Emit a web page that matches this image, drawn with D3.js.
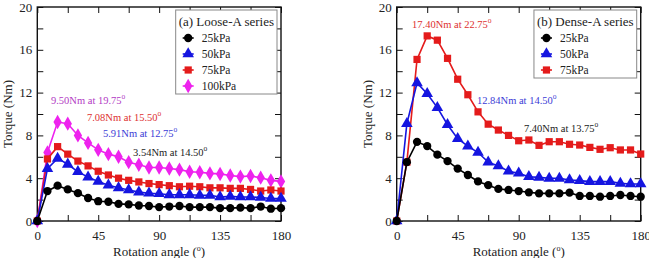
<!DOCTYPE html>
<html>
  <body style="margin:0;background:#fff">
    <style>
      text {
        font-family: "Liberation Serif", "DejaVu Serif", serif !important;
      }
    </style>
    <svg id="chart" width="649" height="258" font-family="Liberation Serif, serif"></svg>
    <script src="https://d3js.org/d3.v7.min.js"></script>
    <script type="text/javascript">
      // rotation angles (deg), shared by every series
      const angles = [0, 7.5, 15, 22.5, 30, 37.5, 45, 52.5, 60, 67.5, 75, 82.5, 90,
        97.5, 105, 112.5, 120, 127.5, 135, 142.5, 150, 157.5, 165, 172.5, 180];

      // (a) Loose-A series, torque in Nm
      const loose25 = [0, 2.8, 3.3, 2.95, 2.6, 2.15, 1.85, 1.8, 1.6, 1.55, 1.45, 1.4, 1.3,
        1.35, 1.4, 1.3, 1.3, 1.3, 1.2, 1.2, 1.25, 1.2, 1.35, 1.15, 1.2];
      const loose50 = [0, 4.9, 5.85, 5.3, 4.6, 4.1, 3.7, 3.35, 3.1, 2.9, 2.7, 2.6, 2.55,
        2.45, 2.45, 2.45, 2.4, 2.4, 2.25, 2.3, 2.25, 2.25, 2.2, 2.1, 2.1];
      const loose75 = [0, 5.8, 6.95, 6.25, 5.6, 5.15, 4.65, 4.3, 4.0, 3.8, 3.65, 3.5, 3.4,
        3.3, 3.2, 3.25, 3.2, 3.1, 3.1, 3.05, 3.05, 2.95, 2.8, 2.9, 2.8];
      const loose100 = [0, 6.4, 9.25, 9.1, 8.0, 7.3, 6.65, 6.25, 6.0, 5.5, 5.25, 5.0, 5.0,
        4.9, 4.8, 4.6, 4.55, 4.45, 4.4, 4.25, 4.15, 4.2, 4.05, 3.8, 3.7];

      // (b) Dense-A series, torque in Nm
      const dense25 = [0, 5.5, 7.4, 7.0, 6.2, 5.6, 4.9, 4.3, 3.7, 3.35, 3.0, 2.9, 2.8,
        2.68, 2.58, 2.58, 2.58, 2.65, 2.34, 2.34, 2.27, 2.34, 2.43, 2.34, 2.27];
      const dense50 = [0, 9.1, 12.9, 11.9, 10.6, 9.0, 7.7, 7.0, 6.4, 5.5, 5.15, 4.65, 4.46,
        4.14, 4.08, 3.99, 3.99, 3.83, 3.77, 3.68, 3.68, 3.68, 3.52, 3.46, 3.46];
      const dense75 = [0, 5.5, 15.1, 17.3, 16.9, 15.2, 13.25, 11.8, 10.2, 9.05, 8.5, 8.0, 7.5,
        7.57, 7.07, 7.41, 7.41, 7.17, 7.1, 6.88, 6.7, 6.85, 6.64, 6.64, 6.26];

      const seriesLabels = ['25kPa', '50kPa', '75kPa', '100kPa'];
      const xTicks = [0, 45, 90, 135, 180];
      const yTicks = [0, 4, 8, 12, 16, 20];

      // peak annotations: [text, angle-label, x (deg), y (Nm)]
      const looseNotes = [
        ['9.50Nm at ', '19.75', 10.1, 10.9],
        ['7.08Nm at ', '15.50', 36.7, 9.35],
        ['5.91Nm at ', '12.75', 48.5, 7.85],
        ['3.54Nm at ', '14.50', 70.7, 6.07],
      ];
      const denseNotes = [
        ['17.40Nm at ', '22.75', 11.3, 18.04],
        ['12.84Nm at ', '14.50', 59.2, 10.93],
        ['7.40Nm at ', '13.75', 93.9, 8.32],
      ];

      const colors = ['#000000', '#1515e0', '#e41b1b', '#ee22ee'];
      const noteColors = ['#b23ac4', '#dd3030', '#3b3bd6', '#222222'];
      const shapes = [d3.symbolCircle, d3.symbolTriangle, d3.symbolSquare, d3.symbolDiamond];
      const shapeSize = [54, 58, 52, 60];
      const serif = '"Liberation Serif", "DejaVu Serif", serif';

      const svg = d3.select('#chart');

      function drawPanel(opt) {
        const top = 7, bottom = 221;
        const x = d3.scaleLinear().domain([0, 180]).range([opt.left, opt.right]);
        const y = d3.scaleLinear().domain([0, 20]).range([bottom, top]);
        const g = svg.append('g');

        const xAll = d3.range(0, 181, 22.5);
        const yAll = d3.range(0, 21, 2);
        const fmtX = (d) => (xTicks.includes(d) ? d : '');
        const fmtY = (d) => (yTicks.includes(d) ? d : '');

        function styleAxis(sel) {
          sel.attr('font-family', serif).attr('font-size', 13);
          sel.select('.domain').remove();
          sel.selectAll('.tick line').attr('stroke', '#111').attr('stroke-width', 1);
          sel.selectAll('.tick text').attr('fill', '#222');
        }
        // ticks on all four sides, pointing inward
        g.append('g')
          .attr('transform', `translate(0,${bottom})`)
          .call(d3.axisBottom(x).tickValues(xAll).tickSize(-6).tickPadding(10).tickFormat(fmtX))
          .call(styleAxis);
        g.append('g')
          .attr('transform', `translate(0,${top})`)
          .call(d3.axisTop(x).tickValues(xAll).tickSize(-6).tickFormat(() => ''))
          .call(styleAxis);
        g.append('g')
          .attr('transform', `translate(${opt.left},0)`)
          .call(d3.axisLeft(y).tickValues(yAll).tickSize(-6).tickPadding(5).tickFormat(fmtY))
          .call(styleAxis);
        g.append('g')
          .attr('transform', `translate(${opt.right},0)`)
          .call(d3.axisRight(y).tickValues(yAll).tickSize(-6).tickFormat(() => ''))
          .call(styleAxis);

        g.append('rect')
          .attr('x', opt.left)
          .attr('y', top)
          .attr('width', opt.right - opt.left)
          .attr('height', bottom - top)
          .attr('fill', 'none')
          .attr('stroke', '#111')
          .attr('stroke-width', 1.4);

        // axis titles
        const xt = g.append('text')
          .attr('x', (opt.left + opt.right) / 2)
          .attr('y', 256)
          .attr('text-anchor', 'middle')
          .attr('font-size', 13)
          .attr('fill', '#222')
          .text('Rotation angle (');
        xt.append('tspan').attr('font-size', 8).attr('dy', -5).text('o');
        xt.append('tspan').attr('dy', 5).text(')');

        g.append('text')
          .attr('transform', `translate(${opt.left - 25},${(top + bottom) / 2}) rotate(-90)`)
          .attr('text-anchor', 'middle')
          .attr('font-size', 13)
          .attr('fill', '#222')
          .text('Torque (Nm)');

        // series lines and markers, lowest-pressure series drawn on top
        const line = d3.line()
          .x((d, i) => x(angles[i]))
          .y((d) => y(d));
        const order = d3.range(opt.series.length).reverse();
        order.forEach((k) => {
          const vals = opt.series[k];
          g.append('path')
            .attr('d', line(vals))
            .attr('fill', 'none')
            .attr('stroke', colors[k])
            .attr('stroke-width', 1.6);
          g.selectAll(null)
            .data(vals)
            .enter()
            .append('path')
            .attr('d', d3.symbol().type(shapes[k]).size(shapeSize[k]))
            .attr('transform', (d, i) => `translate(${x(angles[i])},${y(d)})`)
            .attr('fill', colors[k]);
        });

        // peak notes
        opt.notes.forEach((n, k) => {
          const t = g.append('text')
            .attr('x', x(n[2]))
            .attr('y', y(n[3]))
            .attr('font-size', 10.5)
            .attr('fill', opt.noteColors[k])
            .text(n[0] + n[1]);
          t.append('tspan').attr('font-size', 7.5).attr('dy', -5).text('o');
        });

        // legend
        const lg = g.append('g');
        const box = lg.append('rect')
          .attr('fill', '#fff')
          .attr('stroke', '#888')
          .attr('stroke-width', 1);
        const title = lg.append('text')
          .attr('font-size', 13)
          .attr('text-anchor', 'end')
          .attr('fill', '#222')
          .attr('x', opt.right - 7)
          .attr('y', 26)
          .text(opt.title);
        const tb = title.node().getBBox();
        const bx = tb.x - 3;
        box.attr('x', bx)
          .attr('y', 10)
          .attr('width', opt.right - 4 - bx)
          .attr('height', 20 + opt.series.length * 16);
        opt.series.forEach((vals, k) => {
          const cy = 38 + k * 16;
          lg.append('line')
            .attr('x1', bx + 7)
            .attr('x2', bx + 18)
            .attr('y1', cy)
            .attr('y2', cy)
            .attr('stroke', colors[k])
            .attr('stroke-width', 1.6);
          lg.append('path')
            .attr('d', d3.symbol().type(shapes[k]).size(shapeSize[k]))
            .attr('transform', `translate(${bx + 12.5},${cy})`)
            .attr('fill', colors[k]);
          lg.append('text')
            .attr('x', bx + 26)
            .attr('y', cy + 4)
            .attr('font-size', 11.5)
            .attr('fill', '#222')
            .text(seriesLabels[k]);
        });
      }

      drawPanel({
        left: 37.3,
        right: 281,
        title: '(a) Loose-A series',
        series: [loose25, loose50, loose75, loose100],
        notes: looseNotes,
        noteColors: [noteColors[0], noteColors[1], noteColors[2], noteColors[3]],
      });
      drawPanel({
        left: 396.7,
        right: 640.7,
        title: '(b) Dense-A series',
        series: [dense25, dense50, dense75],
        notes: denseNotes,
        noteColors: [noteColors[1], noteColors[2], noteColors[3]],
      });
    </script>
  </body>
</html>
